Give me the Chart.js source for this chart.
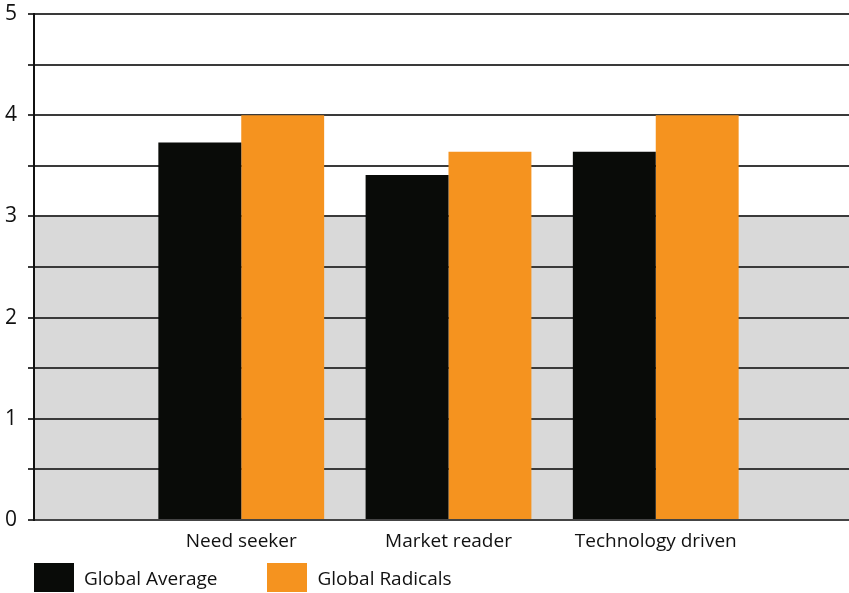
<!DOCTYPE html>
<html>
<head>
<meta charset="utf-8">
<title>Innovation strategy scores</title>
<script src="https://cdn.jsdelivr.net/npm/chart.js@4.4.1/dist/chart.umd.min.js"></script>
<style>
  html, body { margin: 0; padding: 0; background: #fff; overflow: hidden; }
  #wrap { position: relative; width: 880px; height: 593px; }
  #legend {
    position: absolute; left: 34px; top: 563px;
    margin: 0; padding: 0; list-style: none; display: flex;
    font-family: "Open Sans", sans-serif; font-size: 19px; color: #111;
  }
  #legend li { display: flex; align-items: center; margin-right: 50px; height: 29px; }
  #legend .box { width: 40px; height: 29px; margin-right: 10px; }
</style>
</head>
<body>
<div id="wrap">
  <canvas id="barChart"></canvas>
  <ul id="legend"></ul>
</div>
<script>
const categories = ["Need seeker", "Market reader", "Technology driven"];
const globalAverage = [3.73, 3.41, 3.64];
const globalRadicals = [4.0, 3.64, 4.0];
const yTickLabels = ["0", "1", "2", "3", "4", "5"];
const shadedBand = [0, 3];

// empty slots either side keep the groups off the axis
const labels = [""].concat(categories, [""]);
const pad = (arr) => [null].concat(arr, [null]);

const FONT = "'Open Sans', sans-serif";

// grey block behind the lower part of the scale
const bandPlugin = {
  id: "band",
  beforeDraw(chart) {
    const { ctx, chartArea, scales } = chart;
    const top = scales.y.getPixelForValue(shadedBand[1]);
    const bottom = scales.y.getPixelForValue(shadedBand[0]);
    ctx.save();
    ctx.fillStyle = "#d9d9d9";
    ctx.fillRect(chartArea.left, top, chartArea.right - chartArea.left, bottom - top);
    ctx.restore();
  }
};

// legend as a plain list under the chart
const htmlLegend = {
  id: "htmlLegend",
  afterUpdate(chart) {
    const ul = document.getElementById("legend");
    ul.innerHTML = "";
    const items = chart.options.plugins.legend.labels.generateLabels(chart);
    items.forEach((item) => {
      const li = document.createElement("li");
      const box = document.createElement("span");
      box.className = "box";
      box.style.background = item.fillStyle;
      const text = document.createElement("span");
      text.textContent = item.text;
      li.appendChild(box);
      li.appendChild(text);
      ul.appendChild(li);
    });
  }
};

const data = {
  labels: labels,
  datasets: [
    {
      label: "Global Average",
      data: pad(globalAverage),
      backgroundColor: "#090b08",
      borderWidth: 0
    },
    {
      label: "Global Radicals",
      data: pad(globalRadicals),
      backgroundColor: "#f5931f",
      borderWidth: 0
    }
  ]
};

const config = {
  type: "bar",
  data: data,
  plugins: [bandPlugin, htmlLegend],
  options: {
    responsive: true,
    maintainAspectRatio: false,
    animation: false,
    layout: { padding: { top: 14, right: 17, bottom: 33, left: 0 } },
    datasets: { bar: { categoryPercentage: 0.8, barPercentage: 1.0 } },
    plugins: {
      legend: { display: false },
      tooltip: { enabled: false }
    },
    scales: {
      x: {
        offset: false,
        grid: { display: false },
        border: { display: true, color: "#444", width: 2 },
        ticks: {
          autoSkip: false,
          maxRotation: 0,
          padding: 2,
          color: "#111",
          font: { family: FONT, size: 19 }
        },
        afterFit: (scale) => { scale.height = 40; }
      },
      y: {
        min: 0,
        max: 5,
        grid: { color: "#3a3a3a", lineWidth: 2, tickLength: 6 },
        border: { display: true, color: "#111", width: 2 },
        ticks: {
          stepSize: 0.5,
          padding: 11,
          color: "#111",
          font: { family: FONT, size: 21 },
          callback: (v) => (Number.isInteger(v) ? yTickLabels[v] : "")
        },
        afterFit: (scale) => {
          scale.width = 34;
          // top line sits right at the layout padding
          scale.paddingTop = 0;
          scale.paddingBottom = 0;
        }
      }
    }
  }
};

new Chart(document.getElementById("barChart"), config);
</script>
</body>
</html>
